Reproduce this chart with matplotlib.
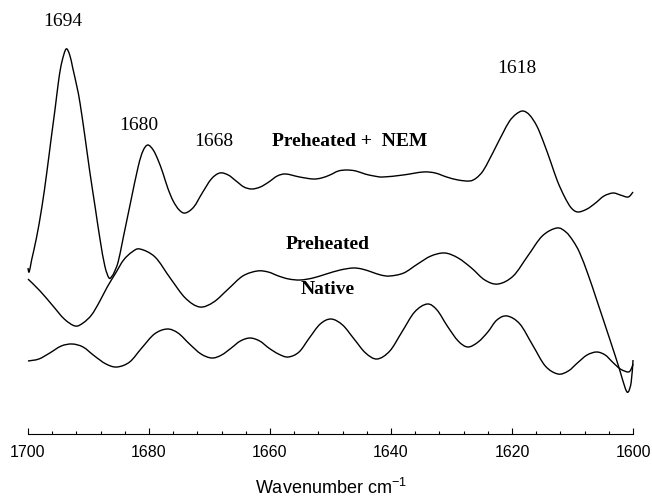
import numpy as np
import matplotlib
matplotlib.use('Agg')
import matplotlib.pyplot as plt
from matplotlib.path import Path
from matplotlib.patches import PathPatch
from matplotlib.ticker import MultipleLocator

plt.rcParams['mathtext.fontset'] = 'custom'
plt.rcParams['mathtext.rm'] = 'Liberation Sans'

# second-derivative FTIR spectra, amide I region (arbitrary units, offset)
wn_nem = [1700.0, 1699.8, 1699.4, 1698.6, 1697.7, 1696.9, 1696.2, 1695.5, 1694.9, 1694.4,
          1693.7, 1693.1, 1692.6, 1691.9, 1691.4, 1690.6, 1689.8, 1688.9, 1688.1, 1687.3,
          1686.6, 1686.1, 1685.8, 1685.1, 1684.3, 1683.1, 1681.8, 1681.0, 1680.2, 1679.3,
          1678.5, 1677.7, 1676.9, 1676.0, 1675.0, 1674.0, 1672.6, 1671.2, 1669.7, 1668.3,
          1666.9, 1665.6, 1664.3, 1663.0, 1661.6, 1660.2, 1658.8, 1657.4, 1655.1, 1652.9,
          1651.5, 1650.1, 1648.7, 1647.3, 1645.8, 1644.3, 1642.8, 1641.3, 1638.0, 1634.7,
          1632.7, 1630.8, 1628.9, 1627.0, 1625.9, 1624.8, 1623.7, 1622.6, 1621.5, 1620.4,
          1619.3, 1618.2, 1617.1, 1615.9, 1614.8, 1613.6, 1612.5, 1611.3, 1610.2, 1609.1,
          1607.6, 1606.2, 1604.8, 1603.3, 1602.1, 1600.8, 1600.0]
nem = [166, 162, 174, 196, 227, 261, 294, 326, 355, 372,
       385, 379, 366, 347, 331, 298, 263, 227, 195, 168,
       156, 158, 161, 172, 195, 230, 267, 283, 289, 284,
       274, 261, 246, 233, 224, 221, 227, 241, 255, 261,
       259, 253, 247, 245, 247, 252, 258, 260, 257, 255,
       256, 259, 263, 264, 263, 260, 258, 257, 259, 262,
       261, 257, 254, 253, 256, 263, 275, 288, 301, 313,
       320, 323, 319, 308, 292, 272, 253, 237, 226, 222,
       225, 231, 238, 241, 239, 237, 242]

wn_pre = [1700.0, 1698.0, 1696.0, 1694.0, 1692.2, 1690.9, 1689.5, 1688.2, 1686.9, 1685.5,
          1684.2, 1682.8, 1681.5, 1679.0, 1676.5, 1674.0, 1671.6, 1669.3, 1666.9, 1664.5,
          1662.1, 1660.3, 1658.6, 1656.9, 1655.0, 1652.9, 1650.7, 1648.4, 1646.3, 1644.8,
          1643.2, 1641.7, 1640.2, 1637.9, 1635.6, 1633.4, 1631.1, 1628.9, 1626.7, 1624.5,
          1622.3, 1619.8, 1617.4, 1615.0, 1612.6, 1611.1, 1609.9, 1608.8, 1607.4, 1606.0,
          1603.8, 1602.3, 1601.3, 1600.8, 1600.3, 1600.0]
pre = [155, 143, 129, 115, 108, 111, 119, 132, 147, 161,
       174, 182, 185, 177, 156, 136, 127, 132, 145, 158,
       163, 162, 158, 155, 154, 156, 160, 164, 166, 165,
       162, 159, 158, 161, 170, 178, 181, 176, 166, 154,
       150, 158, 178, 198, 206, 202, 193, 181, 159, 134,
       94, 66, 46, 42, 52, 74]

wn_nat = [1700.0, 1698.2, 1696.4, 1694.5, 1692.7, 1690.9, 1689.0, 1687.1, 1685.3, 1683.2,
          1681.2, 1679.1, 1677.0, 1675.2, 1673.3, 1671.4, 1669.6, 1668.0, 1666.4, 1664.9,
          1663.3, 1661.7, 1660.2, 1658.6, 1657.0, 1655.2, 1653.5, 1651.7, 1649.9, 1648.0,
          1646.1, 1644.2, 1642.3, 1640.2, 1638.2, 1636.1, 1634.0, 1632.4, 1630.7, 1628.9,
          1627.3, 1625.6, 1624.0, 1622.5, 1620.8, 1618.7, 1616.6, 1614.5, 1612.4, 1610.7,
          1609.2, 1607.6, 1606.0, 1604.6, 1603.4, 1602.1, 1600.8, 1600.3, 1600.0]
nat = [73, 75, 81, 88, 90, 87, 78, 70, 67, 72,
       86, 100, 105, 101, 90, 80, 76, 79, 86, 93,
       96, 93, 86, 80, 77, 82, 96, 110, 115, 109,
       95, 81, 75, 83, 102, 122, 130, 124, 108, 93,
       87, 92, 102, 114, 118, 110, 89, 68, 60, 63,
       71, 79, 82, 79, 72, 65, 62, 65, 70]

peak_labels = ['1694', '1680', '1668', '1618']
peak_pos = [(1694.2, 413), (1681.7, 309), (1669.3, 293), (1619.2, 366)]
series_labels = ['Preheated +  NEM', 'Preheated', 'Native']
series_pos = [(1646.8, 293), (1650.4, 190), (1650.4, 145)]


def smooth_path(x, y):
    # cubic bezier through the read points (catmull-rom tangents)
    pts = np.column_stack([x, y]).astype(float)
    n = len(pts)
    verts = [pts[0]]
    codes = [Path.MOVETO]
    for i in range(n - 1):
        p0 = pts[max(i - 1, 0)]
        p1 = pts[i]
        p2 = pts[i + 1]
        p3 = pts[min(i + 2, n - 1)]
        verts += [p1 + (p2 - p0) / 6, p2 - (p3 - p1) / 6, p2]
        codes += [Path.CURVE4] * 3
    return Path(verts, codes)


fig = plt.figure(figsize=(6.52, 4.98), dpi=100)
ax = fig.add_axes([0.0429, 0.1285, 0.928, 0.8715])

for x, y in [(wn_nem, nem), (wn_pre, pre), (wn_nat, nat)]:
    ax.add_patch(PathPatch(smooth_path(x, y), fill=False, ec='black', lw=1.0,
                           clip_on=False, joinstyle='round'))

for lab, (x, y) in zip(peak_labels, peak_pos):
    ax.text(x, y, lab, ha='center', va='center', fontsize=14, family='Liberation Serif')
for lab, (x, y) in zip(series_labels, series_pos):
    ax.text(x, y, lab, ha='center', va='center', fontsize=14, fontweight='bold',
            family='Liberation Serif')

ax.set_xlim(1700, 1600)
ax.set_ylim(0, 434)
ax.xaxis.set_major_locator(MultipleLocator(20))
ax.xaxis.set_minor_locator(MultipleLocator(4))
ax.tick_params(axis='x', which='major', direction='in', length=4.5, width=0.8, pad=8)
ax.tick_params(axis='x', which='minor', direction='in', length=2.3, width=0.8)
ax.set_yticks([])
for s in ['left', 'right', 'top']:
    ax.spines[s].set_visible(False)
ax.spines['bottom'].set_linewidth(0.8)
for t in ax.get_xticklabels():
    t.set_family('Liberation Sans')
    t.set_fontsize(11.5)
ax.set_xlabel(r'Wavenumber cm$^{\mathregular{-1}}$', family='Liberation Sans',
              fontsize=13, labelpad=13)

fig.savefig('out.png', dpi=100)
